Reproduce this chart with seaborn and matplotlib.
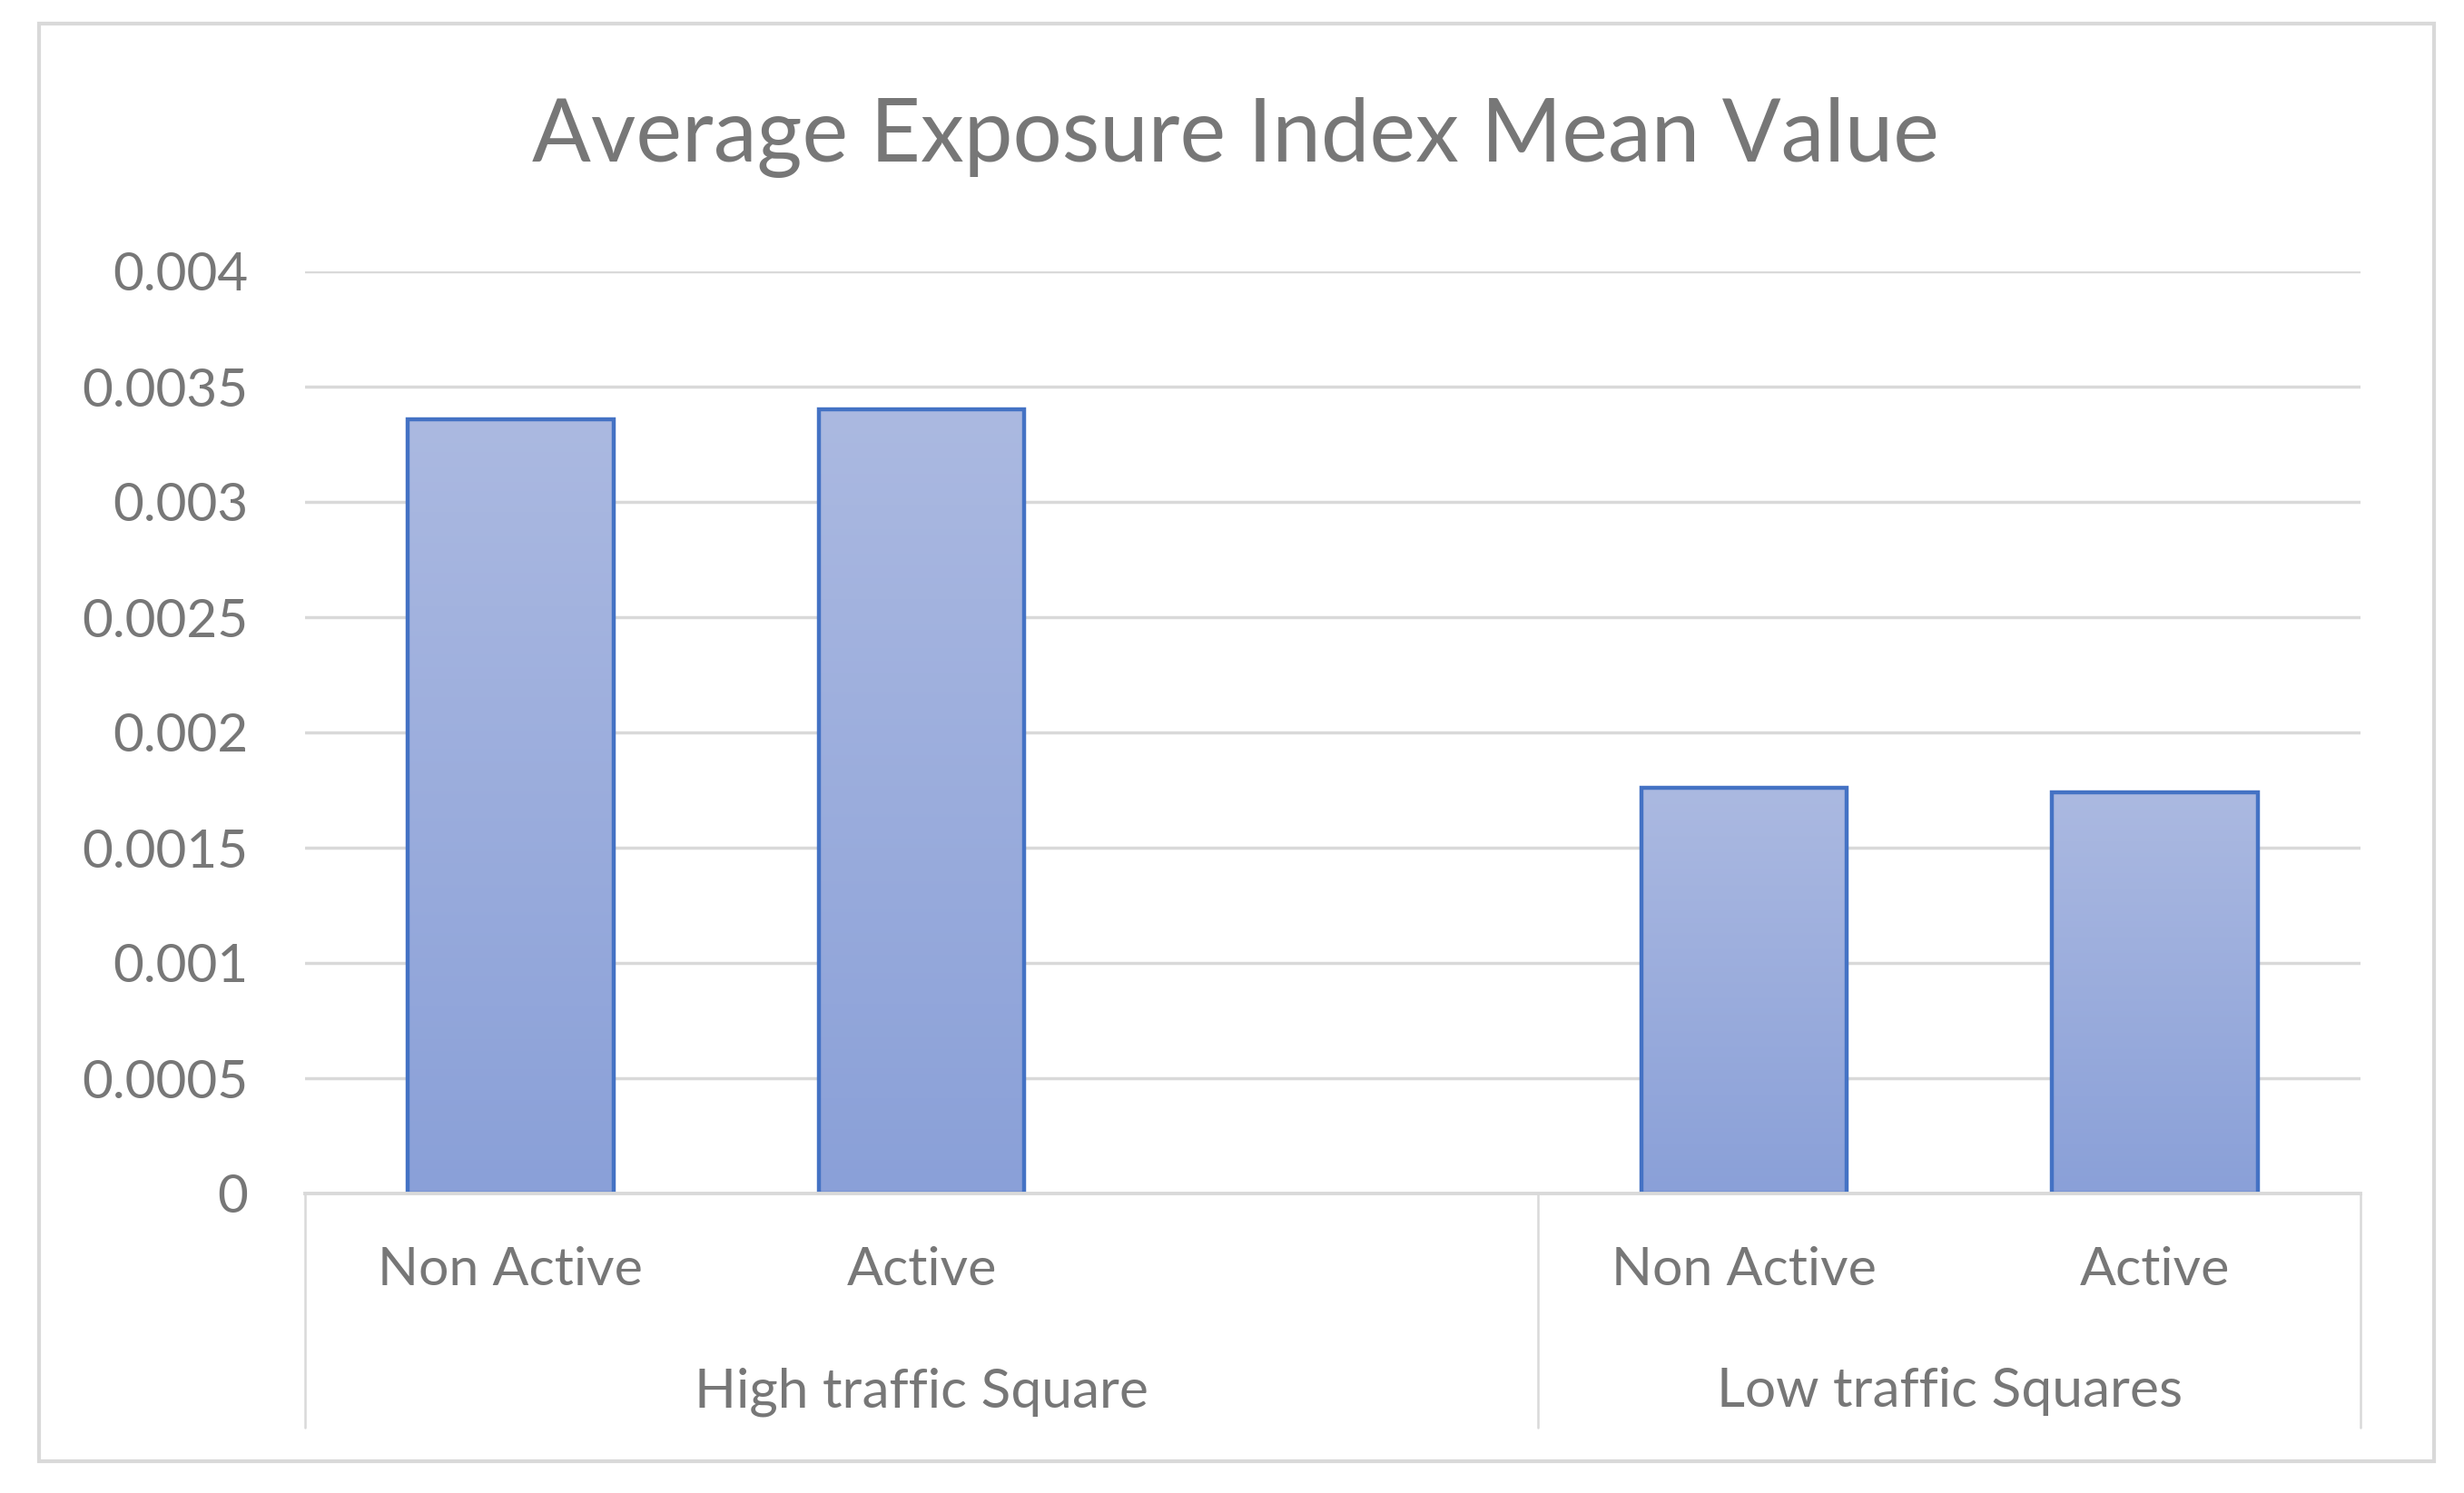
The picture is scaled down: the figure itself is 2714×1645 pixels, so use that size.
import numpy as np
import pandas as pd
import matplotlib
matplotlib.use("Agg")
import matplotlib.pyplot as plt
import matplotlib.transforms as mtransforms
from matplotlib.colors import LinearSegmentedColormap
from matplotlib.patches import Rectangle
import seaborn as sns

# data
groups = ["High traffic Square", "High traffic Square", "Low traffic Squares", "Low traffic Squares"]
status = ["Non Active", "Active", "Non Active", "Active"]
values = [0.00336, 0.0034, 0.00176, 0.00174]
group_names = ["High traffic Square", "Low traffic Squares"]
y_ticks = [0, 0.0005, 0.001, 0.0015, 0.002, 0.0025, 0.003, 0.0035, 0.004]
y_tick_labels = ["0", "0.0005", "0.001", "0.0015", "0.002", "0.0025", "0.003", "0.0035", "0.004"]
title = "Average Exposure Index Mean Value"

TXT = "#777777"
GRID = "#d9d9d9"
EDGE = "#4472c4"

sns.set_style("white")
plt.rcParams["font.family"] = ["Lato", "DejaVu Sans"]

df = pd.DataFrame({"group": groups, "status": status, "value": values})
df["slot"] = df["group"] + "|" + df["status"]
# Excel leaves one empty slot after the first group
order = list(df["slot"][:2]) + ["gap"] + list(df["slot"][2:])

fig = plt.figure(figsize=(27.14, 16.45), dpi=100)
W, H = 2714, 1645
ax = fig.add_axes([336 / W, (H - 1315) / H, (2600 - 336) / W, (1315 - 299) / H])

sns.barplot(data=df, x="slot", y="value", order=order, width=0.5,
            color="#9aaedc", edgecolor=EDGE, linewidth=3.2, ax=ax, zorder=2)

# gradient fill for each bar
cmap = LinearSegmentedColormap.from_list("bar", ["#8aa0d8", "#abb9e1"])
grad = np.linspace(0, 1, 256).reshape(-1, 1)
for p in ax.patches:
    x0, y0, w, h = p.get_x(), p.get_y(), p.get_width(), p.get_height()
    im = ax.imshow(grad, extent=[x0, x0 + w, y0, y0 + h], aspect="auto",
                   cmap=cmap, origin="lower", zorder=1.5)
    im.set_clip_path(p)
    p.set_facecolor("none")

ax.set_xlim(-0.5, len(order) - 0.5)
ax.set_ylim(0, 0.004)
ax.set_yticks(y_ticks)
ax.set_yticklabels(y_tick_labels)
ax.yaxis.grid(True, color=GRID, linewidth=2.5)
ax.set_axisbelow(True)
ax.tick_params(axis="y", length=0, pad=45, labelsize=42, labelcolor=TXT)

xlabels = [s.split("|")[1] if "|" in s else "" for s in order]
ax.set_xticks(range(len(order)))
ax.set_xticklabels(xlabels)
ax.tick_params(axis="x", length=0, pad=42, labelsize=42.5, labelcolor=TXT)
ax.set_xlabel("")
ax.set_ylabel("")

for side in ["left", "right", "top"]:
    ax.spines[side].set_visible(False)
ax.spines["bottom"].set_color(GRID)
ax.spines["bottom"].set_linewidth(2.8)

# second level of category axis
trans = mtransforms.blended_transform_factory(ax.transData, ax.transAxes)
bounds = [-0.5, 2.5, len(order) - 0.5]
for b in bounds:
    ax.plot([b, b], [0, -0.254], transform=trans, color=GRID, linewidth=1.8, clip_on=False)
for g, lo, hi in zip(group_names, bounds[:-1], bounds[1:]):
    ax.text((lo + hi) / 2, -0.2313, g, transform=trans, ha="center", va="baseline",
            fontsize=43.5, color=TXT)

fig.text(1361 / W, 1 - 178 / H, title, ha="center", va="baseline", fontsize=69, color=TXT)

# chart border
fig.patches.append(Rectangle((43 / W, (H - 1610) / H), (2681 - 43) / W, (1610 - 26) / H,
                             transform=fig.transFigure, fill=False, edgecolor=GRID,
                             linewidth=3))

fig.savefig("out.png", dpi=100)
